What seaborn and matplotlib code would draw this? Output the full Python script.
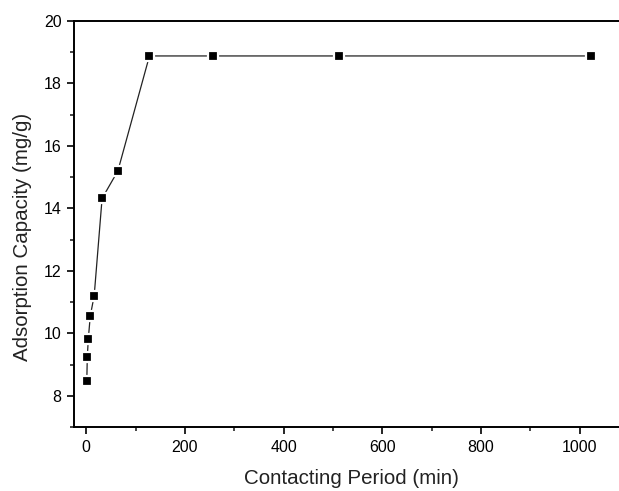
import matplotlib
matplotlib.use("Agg")
import matplotlib.pyplot as plt
import seaborn as sns
import pandas as pd
from matplotlib.ticker import MultipleLocator

# Contact time (min) and adsorption capacity (mg/g)
contact_time = [1, 2, 4, 8, 16, 32, 64, 128, 256, 512, 1024]
capacity = [8.47, 9.23, 9.81, 10.55, 11.21, 14.32, 15.20, 18.88, 18.88, 18.88, 18.88]

df = pd.DataFrame({"time": contact_time, "q": capacity})

sns.set_theme(style="ticks")
plt.rcParams["font.family"] = ["Liberation Sans", "DejaVu Sans"]

fig = plt.figure(figsize=(6.19, 4.91), dpi=100)
ax = fig.add_axes([0.1195, 0.1303, 0.8966, 0.827])

sns.lineplot(data=df, x="time", y="q", ax=ax, color="#222222", linewidth=0.9,
             marker="s", markersize=7.8, markerfacecolor="black",
             markeredgecolor="white", markeredgewidth=1.6, estimator=None)

ax.set_xlim(-25, 1100)
ax.set_ylim(7, 20)
ax.xaxis.set_major_locator(MultipleLocator(200))
ax.xaxis.set_minor_locator(MultipleLocator(100))
ax.yaxis.set_major_locator(MultipleLocator(2))
ax.yaxis.set_minor_locator(MultipleLocator(1))
ax.set_yticks([8, 10, 12, 14, 16, 18, 20])

for side in ["left", "bottom", "top", "right"]:
    ax.spines[side].set_visible(True)
    ax.spines[side].set_linewidth(1.4)
    ax.spines[side].set_color("black")

ax.tick_params(which="major", direction="out", length=5, width=1.2,
               labelsize=11.5, colors="black", pad=4)
ax.tick_params(which="minor", direction="out", length=3, width=1.2)
ax.tick_params(top=False, right=False, which="both")

ax.set_xlabel("Contacting Period (min)", fontsize=14.8, color="#222222")
ax.set_ylabel("Adsorption Capacity (mg/g)", fontsize=14.8, color="#222222")
ax.xaxis.set_label_coords(0.5, -0.103)
ax.yaxis.set_label_coords(-0.0757, 0.469)

fig.savefig("out.png", dpi=100)
